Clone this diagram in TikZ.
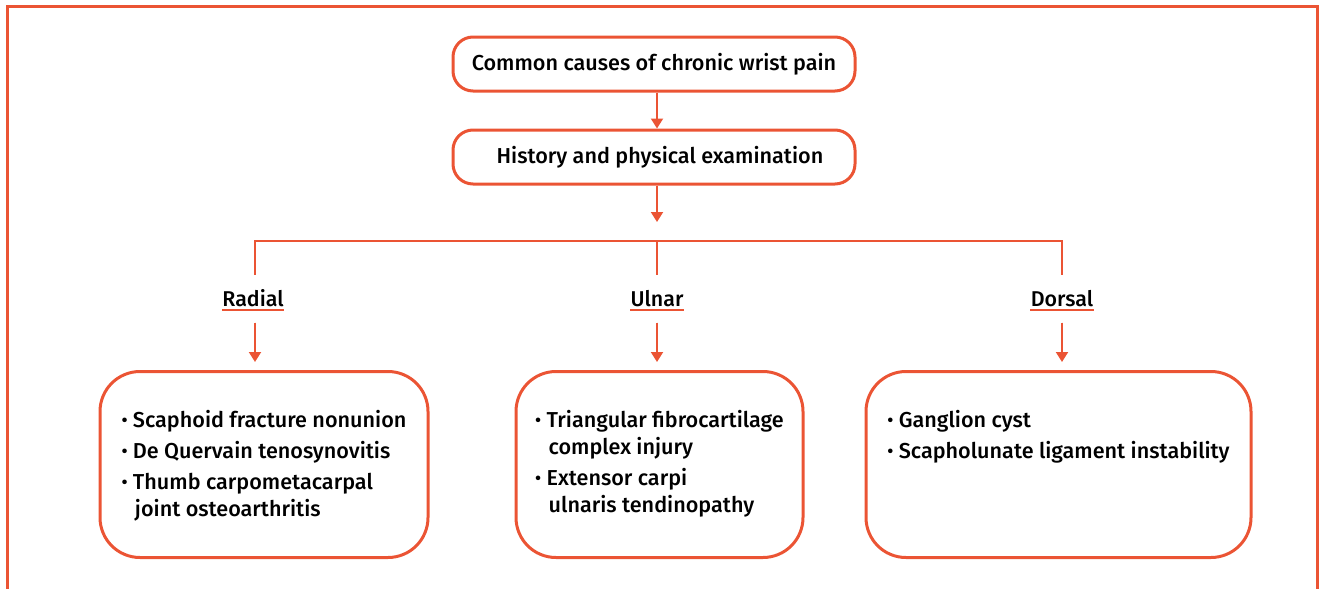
\documentclass[tikz,border=0pt]{standalone}
\usepackage{fontspec}
\setmainfont{Fira Sans}[BoldFont={Fira Sans Medium}]
\usetikzlibrary{arrows.meta,positioning}

\definecolor{wristred}{RGB}{235,84,52}
\newcommand{\bul}{\raisebox{0.3pt}{\small\textbullet}\ }
\newcommand{\hangin}{\phantom{\bul}\hspace{1pt}}

\begin{document}
\begin{tikzpicture}[%
x=0.5pt, y=-0.5pt,
>={Triangle[width=6pt,length=5pt]},
node distance=46.5pt,
on grid,
headbox/.style={draw=wristred, line width=1.5pt, rounded corners=10pt,
  minimum width=201pt, minimum height=27pt, inner sep=0pt,
  font=\fontsize{10.8}{13}\selectfont\bfseries},
causebox/.style={draw=wristred, line width=1.5pt, rounded corners=20pt,
  anchor=north, inner xsep=0pt, inner ysep=0pt,
  text height=28pt, text depth=65pt,
  font=\fontsize{10.8}{13.5}\selectfont\bfseries},
sidelabel/.style={anchor=base, inner sep=0pt,
  font=\fontsize{10.7}{12}\selectfont\bfseries},
arrow/.style={->, draw=wristred, fill=wristred, line width=1pt},
branch/.style={draw=wristred, line width=0.75pt}
]
\useasboundingbox (0,0) rectangle (1323,589);
\draw[wristred, line width=1.5pt] (7,589) -- (7,6) -- (1317,6) -- (1317,589);

\node[headbox] (causes) at (654,64) {Common causes of chronic wrist pain};
\node[headbox] (history) [below=of causes] {\hspace{6pt}History and physical examination};
\coordinate (split) at (657,222);
\coordinate (fork) at (657,241);

\node[sidelabel] (radial) at (253,306) {Radial};
\node[sidelabel] (ulnar) at (657,306) {Ulnar};
\node[sidelabel] (dorsal) at (1062,306) {Dorsal};

\node[causebox, minimum width=164pt] (radbox) at (264,370)
  {\begin{tabular}[t]{@{}l@{}}
   \bul Scaphoid fracture nonunion\\[2pt]
   \bul De Quervain tenosynovitis\\[2pt]
   \bul Thumb carpometacarpal\\
   \hangin joint osteoarthritis
   \end{tabular}};
\node[causebox, minimum width=143.5pt] (ulnbox) at (659.5,370)
  {\begin{tabular}[t]{@{}l@{}}
   \bul Triangular fibrocartilage\\
   \hangin complex injury\\[2pt]
   \bul Extensor carpi\\
   \hangin ulnaris tendinopathy
   \end{tabular}};
\node[causebox, minimum width=192.5pt] (dorbox) at (1058.5,370)
  {\begin{tabular}[t]{@{}l@{}}
   \bul Ganglion cyst\\[2pt]
   \bul Scapholunate ligament instability
   \end{tabular}};

% main line
\draw[arrow] (causes.south -| split) -- (history.north -| split);
\draw[arrow] (history.south -| split) -- (split);

% three sides
\draw[branch, shorten <=7pt, shorten >=7pt] (radial.north -| 255,0) |- (fork) -| (dorsal);
\draw[branch, shorten >=7pt] (fork) -- (ulnar);
\foreach \side in {radial,ulnar,dorsal}
  \draw[branch] ([yshift=-2pt]\side.base west) -- ([yshift=-2pt]\side.base east);

\draw[arrow, shorten <=8pt, shorten >=4pt] (radial.south -| 255,0) -- (radbox.north -| 255,0);
\draw[arrow, shorten <=8pt, shorten >=4pt] (ulnar) -- (ulnar |- ulnbox.north);
\draw[arrow, shorten <=8pt, shorten >=4pt] (dorsal) -- (dorsal |- dorbox.north);

\end{tikzpicture}
\end{document}
